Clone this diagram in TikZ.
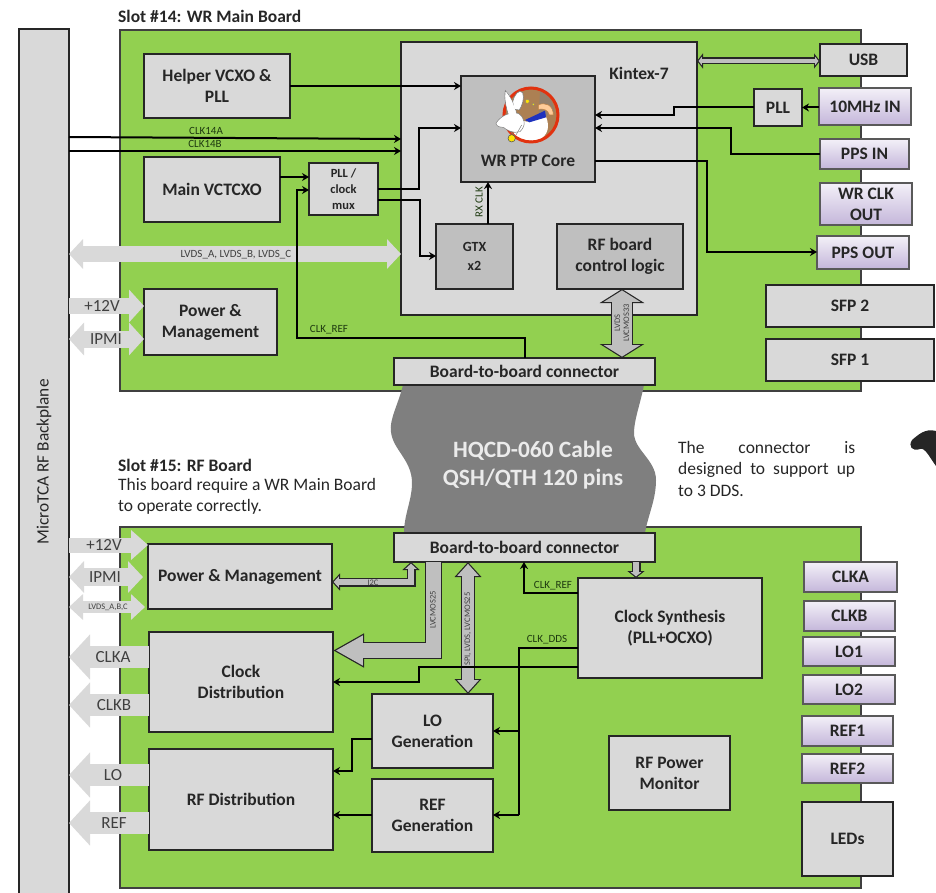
\documentclass[tikz,border=0pt]{standalone}
\usepackage{fontspec}
\setmainfont{Carlito}
\usetikzlibrary{arrows.meta,calc}
\definecolor{boardgreen}{HTML}{92D050}
\definecolor{lightbox}{HTML}{D9D9D9}
\definecolor{midbox}{HTML}{BFBFBF}
\definecolor{edgec}{HTML}{262626}
\definecolor{purpleedge}{HTML}{595959}
\definecolor{cablegray}{HTML}{7F7F7F}
\definecolor{lblgreen}{HTML}{1E3A10}
\definecolor{softtext}{HTML}{404040}
\definecolor{pinpurple}{HTML}{C4B6DA}
\definecolor{logored}{HTML}{E1320F}
\definecolor{logoblue}{HTML}{1E32BE}
\tikzset{
  boxbase/.style={draw=edgec,line width=1.2pt,inner sep=0pt,outer sep=0pt,align=center,text=black!85,
    font=\bfseries\fontsize{17.5}{21}\selectfont},
  graybox/.style={boxbase,fill=lightbox},
  corebox/.style={boxbase,fill=midbox},
  muxbox/.style={graybox,font=\bfseries\fontsize{12.5}{16}\selectfont},
  gtxbox/.style={corebox,font=\bfseries\fontsize{14}{19}\selectfont},
  pinbox/.style={boxbase,draw=purpleedge,line width=1.6pt,top color=pinpurple!20!white,bottom color=pinpurple,middle color=pinpurple!60!white},
  board/.style={draw=softtext,line width=1.2pt,fill=boardgreen,inner sep=0pt,outer sep=0pt},
  sig/.style={draw=black,line width=2pt,-{Stealth[length=7pt,width=8pt]}},
  sigplain/.style={draw=black,line width=2pt},
  tiny/.style={inner sep=0pt,font=\fontsize{11}{12}\selectfont,text=lblgreen},
  micro/.style={inner sep=0pt,font=\fontsize{8.5}{9}\selectfont,text=softtext,align=center},
  pwrlabel/.style={inner sep=0pt,font=\fontsize{17}{18}\selectfont,text=softtext},
  plainlabel/.style={inner sep=0pt,text=black!85,align=left,font=\fontsize{17.5}{21.5}\selectfont},
  slotlabel/.style={inner sep=0pt,anchor=west,text=black!85,font=\bfseries\fontsize{17.5}{18}\selectfont},
}
\newcommand\BX[7]{%
  \pgfmathsetmacro\cxx{(#3+#5)/2}\pgfmathsetmacro\cyy{(#4+#6)/2}%
  \pgfmathsetmacro\www{#5-#3}\pgfmathsetmacro\hhh{#6-#4}%
  \node[#1,minimum width=\www pt,minimum height=\hhh pt] (#2) at (\cxx,\cyy) {#7};}
\newcommand\FatCalc[3]{%
  \pgfmathsetmacro\iw{#1-2.4}%
  \pgfmathsetmacro\dd{1.2*sqrt(1+(2*#2/#3)^2)}%
  \pgfmathsetmacro\iL{#2-1.2-\dd}%
  \pgfmathsetmacro\iW{#3*\iL/#2}}
\newcommand\FatTwo[5]{%
  \FatCalc{#2}{#3}{#4}%
  \draw[line width=#2pt,edgec,line join=miter,{Triangle[length=#3pt,width=#4pt]}-{Triangle[length=#3pt,width=#4pt]}] #5;
  \draw[line width=\iw pt,#1,line join=miter,shorten >=\dd pt,shorten <=\dd pt,{Triangle[length=\iL pt,width=\iW pt]}-{Triangle[length=\iL pt,width=\iW pt]}] #5;}
\newcommand\FatOne[5]{%
  \FatCalc{#2}{#3}{#4}%
  \draw[line width=#2pt,edgec,line join=miter,-{Triangle[length=#3pt,width=#4pt]}] #5;
  \draw[line width=\iw pt,#1,line join=miter,shorten >=\dd pt,-{Triangle[length=\iL pt,width=\iW pt]}] #5;}
\begin{document}
\begin{tikzpicture}[x=1pt,y=-1pt]
\useasboundingbox (0,0) rectangle (936,893);
\begin{scope}
\clip (0,0) rectangle (936,893);
\BX{graybox}{backplane}{19}{29}{69}{900}{}
\node[rotate=90,inner sep=0pt,text=black!85,font=\fontsize{17.3}{18}\selectfont] (bplabel) at (44,462) {MicroTCA RF Backplane};
\BX{board}{mainboard}{120}{30}{861}{391}{}
\BX{board}{rfboard}{120}{527}{861}{888}{}
\node[slotlabel] (slot14) at (118,16) {Slot \#14: WR Main Board};
\node[slotlabel] (slot15) at (118,465) {Slot \#15: RF Board};
\node[plainlabel,anchor=north west] (slotnote) at (118,478) {This board require a WR Main Board\\to operate correctly.};
\BX{graybox}{kintex}{401}{42}{697}{315}{}
\node[inner sep=0pt,text=black!85,font=\bfseries\fontsize{17.5}{18}\selectfont] (kintexlabel) at (639,73) {Kintex-7};
\BX{graybox}{helper}{144}{54}{290}{118}{Helper VCXO \&\\PLL}
\BX{graybox}{vctcxo}{144}{157}{280}{222}{Main VCTCXO}
\BX{muxbox}{mux}{309}{163}{378}{215}{PLL /\\clock\\mux}
\BX{graybox}{pwrtop}{144}{289}{277}{355}{Power \&\\Management}
\BX{corebox}{core}{461}{76}{595}{182}{}
\node[inner sep=0pt,text=black!85,font=\bfseries\fontsize{17.5}{18}\selectfont] (corelabel) at (528,161) {WR PTP Core};
\BX{gtxbox}{gtx}{436}{224}{513}{289}{GTX\\x2}
\BX{corebox}{rfctl}{557}{224}{683}{289}{RF board\\control logic}
\BX{graybox}{usb}{820}{44}{907}{76}{USB}
\BX{graybox}{pll}{754}{89}{802}{126}{PLL}
\BX{pinbox}{tenmhz}{819}{88}{911}{125}{10MHz IN}
\BX{pinbox}{ppsin}{820}{139}{909}{169}{PPS IN}
\BX{pinbox}{wrclk}{820}{183}{912}{225}{WR CLK\\OUT}
\BX{pinbox}{ppsout}{817}{236}{909}{269}{PPS OUT}
\BX{graybox}{sfptwo}{766}{285}{934}{327}{SFP 2}
\BX{graybox}{sfpone}{766}{339}{934}{381}{SFP 1}
% logo
\begin{scope}[shift={(470,70)},x=0.3333pt,y=-0.3333pt]
\fill[brown!70!gray] (183,135) circle (80);
\fill[gray!70!brown] (205,150) -- (252,125) arc (0:-65:72) -- cycle;
\fill[orange!40!white,draw=brown,line width=.5pt] (205,105) .. controls (225,95) and (250,105) .. (250,135) -- (238,135) .. controls (235,120) and (220,115) .. (205,118) -- cycle;
\fill[white] (150,150) -- (170,155) -- (228,140) .. controls (240,170) and (235,195) .. (205,212) .. controls (170,215) and (145,205) .. (130,195) -- cycle;
\fill[logoblue] (165,150) -- (225,122) -- (228,142) -- (178,157) -- cycle;
\draw[logored,line width=3pt] (183,135) circle (81);
\filldraw[fill=white,draw=gray,line width=.6pt] (106,62) .. controls (122,80) and (138,110) .. (140,135) -- (115,135) .. controls (108,110) and (102,85) .. (106,62) -- cycle;
\filldraw[fill=white,draw=gray,line width=.6pt] (128,95) .. controls (132,75) and (148,55) .. (158,68) .. controls (165,85) and (155,110) .. (148,120) -- (132,118) -- cycle;
\filldraw[fill=white,draw=gray,line width=.5pt] (78,160) .. controls (90,140) and (115,125) .. (145,130) .. controls (165,145) and (170,165) .. (150,185) .. controls (130,192) and (110,180) .. (100,172) .. controls (90,172) and (80,170) .. (78,160) -- cycle;
\fill[white] (108,66) .. controls (122,84) and (135,110) .. (138,132) -- (118,137) .. controls (110,110) and (104,85) .. (108,66) -- cycle;
\draw[gray,line width=.5pt] (120,183) -- (135,200) (155,165) -- (138,195);
\filldraw[fill=yellow!85!orange,draw=black!70,line width=.5pt] (125,205) circle (11);
\filldraw[fill=yellow!85!orange,draw=black!50,line width=.3pt] (172,94) circle (6) (190,103) circle (4);
\end{scope}
\draw[line width=15pt,lightbox,{Triangle[length=14pt,width=29pt]}-{Triangle[length=14pt,width=29pt]}] (backplane.east |- 0,254) -- (kintex.west |- 0,254);
\node[tiny,text=softtext] (lvdslabel) at (236,255) {LVDS\_A, LVDS\_B, LVDS\_C};
\draw[line width=16pt,lightbox,-{Triangle[length=15pt,width=32pt]}] (backplane.east |- 0,306) -- (pwrtop.west |- 0,306);
\draw[line width=17pt,lightbox,{Triangle[length=15pt,width=32pt]}-{Triangle[length=15pt,width=32pt]}] (backplane.east |- 0,339) -- (pwrtop.west |- 0,339);
\node[pwrlabel] (v12a) at (102,306) {+12V};
\node[pwrlabel] (ipmia) at (106,339) {IPMI};
\draw[sig] (helper.east) -- (core.west |- helper.east);
\draw[sig] (backplane.east |- 0,137) -- (kintex.west |- 0,139);
\draw[sig] (backplane.east |- 0,151) -- (kintex.west |- 0,151);
\node[tiny] (clka14) at (206,131) {CLK14A};
\node[tiny] (clkb14) at (205,144) {CLK14B};
\draw[sig] (vctcxo.east |- 0,177) -- (mux.west |- 0,177);
\node[tiny] (clkrefa) at (329,330) {CLK\_REF};
\draw[sig] (mux.east |- 0,189) -- (419,189) -- (419,128) -- (core.west |- 0,128);
\draw[sig] (mux.east |- 0,200) -- (420,200) -- (420,256) -- (gtx.west |- 0,256);
\draw[sig] (gtx.north -| 488,0) -- (core.south -| 488,0);
\node[tiny,rotate=90] (rxclk) at (479,202) {RX CLK};
\draw[sig] (tenmhz.west |- pll.east) -- (pll.east);
\draw[sig] (pll.west) -- (674,107.5) -- (674,115) -- (core.east |- 0,115);
\draw[sig] (ppsin.west) -- (731,154) -- (731,128) -- (core.east |- 0,128);
\draw[sig] (core.east |- 0,161) -- (707,161) -- (707,252) -- (ppsout.west |- 0,252);
\FatTwo{midbox}{7}{6}{15}{(kintex.east |- 0,61) -- (usb.west |- 0,61)}
\end{scope}
% cable
\fill[cablegray] (403,385) .. controls (398,405) and (389,420) .. (391,432) .. controls (393,450) and (412,460) .. (412,483) .. controls (412,500) and (404,515) .. (404,533) -- (645,533) .. controls (648,515) and (656,500) .. (656,480) .. controls (656,460) and (634,450) .. (634,433) .. controls (634,420) and (640,405) .. (644,385) -- cycle;
\node[inner sep=0pt,align=center,text=white!92!black,font=\bfseries\fontsize{23.4}{28}\selectfont] (cablelabel) at (533,465) {HQCD-060 Cable\\QSH/QTH 120 pins};
\node[plainlabel,anchor=north west] (dds) at (678,441) {\makebox[177pt][s]{The connector is}\\\makebox[177pt][s]{designed to support up}\\to 3 DDS.};
\fill[black!85] (936,431) .. controls (925,428) and (918,435) .. (912,440) .. controls (908,446) and (912,452) .. (920,449) .. controls (925,447) and (930,458) .. (936,466) -- cycle;
% connectors
\BX{graybox}{connA}{394}{358}{655}{385}{Board-to-board connector}
\BX{graybox}{connB}{394}{533}{655}{562}{Board-to-board connector}
\draw[sig] (connA.north -| 525,0) -- (525,338) -- (297,338) -- (297,190) -- (mux.west |- 0,190);
\FatTwo{midbox}{22}{14}{44}{(rfctl.south -| 622,0) -- (connA.north -| 622,0)}
\node[micro,rotate=90] (lvcmosa) at (622,323) {LVDS\\LVCMOS33};
% RF board blocks
\BX{graybox}{pwrrf}{148}{544}{332}{609}{Power \& Management}
\BX{graybox}{clkdist}{149}{632}{333}{732}{Clock\\Distribution}
\BX{graybox}{rfdist}{149}{749}{333}{850}{RF Distribution}
\BX{graybox}{logen}{372}{694}{493}{768}{LO\\Generation}
\BX{graybox}{refgen}{372}{779}{493}{852}{REF\\Generation}
\BX{graybox}{synth}{578}{578}{762}{678}{Clock Synthesis\\(PLL+OCXO)}
\BX{graybox}{monitor}{609}{736}{730}{810}{RF Power\\Monitor}
\BX{pinbox}{pclka}{804}{562}{897}{592}{CLKA}
\BX{pinbox}{pclkb}{804}{601}{895}{631}{CLKB}
\BX{pinbox}{plo1}{803}{637}{895}{666}{LO1}
\BX{pinbox}{plo2}{803}{675}{895}{704}{LO2}
\BX{pinbox}{pref1}{802}{716}{893}{746}{REF1}
\BX{pinbox}{pref2}{802}{754}{893}{783}{REF2}
\BX{graybox}{leds}{802}{802}{893}{876}{LEDs}
% backplane-side RF arrows
\draw[line width=15pt,lightbox,-{Triangle[length=17pt,width=29pt]}] (backplane.east |- 0,545) -- (pwrrf.west |- 0,545);
\draw[line width=18pt,lightbox,{Triangle[length=15pt,width=31pt]}-{Triangle[length=15pt,width=31pt]}] (backplane.east |- 0,577) -- (143,577);
\draw[line width=12pt,lightbox,{Triangle[length=14pt,width=25pt]}-{Triangle[length=14pt,width=25pt]}] (backplane.east |- 0,607) -- (145,607);
\draw[line width=22pt,lightbox,-{Triangle[length=21pt,width=44pt]}] (clkdist.west |- 0,657) -- (backplane.east |- 0,657);
\draw[line width=22pt,lightbox,-{Triangle[length=21pt,width=44pt]}] (clkdist.west |- 0,705) -- (backplane.east |- 0,705);
\draw[line width=22pt,lightbox,-{Triangle[length=21pt,width=44pt]}] (rfdist.west |- 0,775) -- (backplane.east |- 0,775);
\draw[line width=22pt,lightbox,-{Triangle[length=21pt,width=44pt]}] (rfdist.west |- 0,823) -- (backplane.east |- 0,823);
\node[pwrlabel] (v12b) at (104,545) {+12V};
\node[pwrlabel] (ipmib) at (105,577) {IPMI};
\node[micro] (lvdsabc) at (108,607) {LVDS\_A,B,C};
\node[pwrlabel] (lclka) at (113,657) {CLKA};
\node[pwrlabel] (lclkb) at (114,705) {CLKB};
\node[pwrlabel] (llo) at (113,775) {LO};
\node[pwrlabel] (lref) at (114,823) {REF};
% RF board fat links
\FatOne{midbox}{17}{31}{32}{(connB.south -| 433.5,0) -- (433.5,650.5) -- (clkdist.east |- 0,650.5)}
\node[micro,rotate=90] (lvcmosb) at (433,610) {LVCMOS25};
\FatTwo{midbox}{14}{15}{26}{(connB.south -| 468,0) -- (logen.north -| 468,0)}
\node[micro,rotate=90] (spilabel) at (468,629) {SPI, LVDS, LVCMOS25};
\FatTwo{midbox}{9}{8}{17}{(pwrrf.east |- 0,582) -- (411,582) -- (connB.south -| 411,0)}
\node[micro] (iiclabel) at (373,583) {I2C};
\FatOne{midbox}{9}{7}{17}{(connB.south -| 636,0) -- (synth.north -| 636,0)}
% RF board signals
\draw[sig] (synth.west |- 0,593) -- (524,593) -- (connB.south -| 524,0);
\node[tiny] (clkrefb) at (553,586) {CLK\_REF};
\draw[sigplain] (synth.west |- 0,648) -- (519,648) -- (519,815);
\node[tiny] (clkdds) at (547,640) {CLK\_DDS};
\draw[sig] (519,731) -- (logen.east |- 0,731);
\draw[sig] (519,815) -- (refgen.east |- 0,815);
\draw[sig] (synth.west |- 0,667) -- (419,667) -- (419,682) -- (clkdist.east |- 0,682);
\draw[sig] (logen.west |- 0,739) -- (352,739) -- (352,771) -- (rfdist.east |- 0,771);
\draw[sig] (refgen.west |- 0,815) -- (rfdist.east |- 0,815);
\end{tikzpicture}
\end{document}
